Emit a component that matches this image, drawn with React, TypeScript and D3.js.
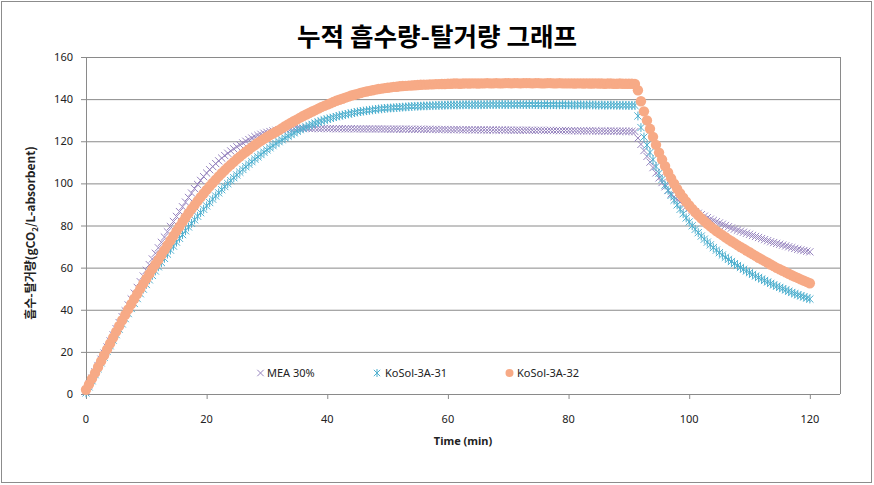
import * as d3 from "d3";

// sampling interval of the logger, minutes
const STEP = 0.5;

// rows of 10 points = 5 min each, last value at 120 min
const MEA_30 = [
  1.5, 4.5, 7.5, 10.5, 13.5, 16.5, 19.4, 22.3, 25.2, 28.1,
  31.0, 33.9, 36.7, 39.5, 42.3, 45.1, 47.9, 50.6, 53.3, 56.0,
  58.7, 61.4, 64.1, 66.8, 69.4, 72.0, 74.5, 77.0, 79.5, 81.9,
  84.3, 86.6, 88.9, 91.1, 93.3, 95.4, 97.5, 99.5, 101.4, 103.2,
  104.9, 106.5, 108.0, 109.4, 110.7, 112.0, 113.2, 114.3, 115.4, 116.4,
  117.4, 118.3, 119.2, 120.0, 120.8, 121.5, 122.2, 122.8, 123.3, 123.8,
  124.2, 124.6, 124.9, 125.2, 125.4, 125.6, 125.8, 125.9, 126.0, 126.0,
  126.1, 126.1, 126.0, 126.1, 126.1, 126.0, 126.1, 126.0, 126.0, 126.1,
  126.0, 126.0, 126.0, 125.9, 126.0, 126.0, 125.9, 125.9, 126.0, 125.9,
  125.9, 125.9, 125.8, 125.9, 125.9, 125.8, 125.8, 125.9, 125.8, 125.8,
  125.8, 125.7, 125.8, 125.8, 125.7, 125.7, 125.8, 125.7, 125.7, 125.6,
  125.7, 125.7, 125.6, 125.6, 125.7, 125.6, 125.6, 125.5, 125.6, 125.6,
  125.5, 125.5, 125.5, 125.6, 125.5, 125.4, 125.5, 125.5, 125.4, 125.4,
  125.5, 125.4, 125.4, 125.3, 125.4, 125.4, 125.3, 125.3, 125.4, 125.3,
  125.3, 125.3, 125.2, 125.3, 125.2, 125.2, 125.3, 125.2, 125.2, 125.1,
  125.2, 125.2, 125.1, 125.1, 125.2, 125.1, 125.1, 125.0, 125.1, 125.1,
  125.0, 125.0, 125.0, 124.9, 125.0, 124.9, 124.9, 125.0, 124.9, 124.9,
  124.8, 124.9, 124.8, 124.8, 124.9, 124.8, 124.8, 124.7, 124.8, 124.7,
  124.7, 124.7, 124.6, 121.5, 118.5, 115.6, 112.8, 110.1, 107.5, 105.0,
  102.6, 100.4, 98.4, 96.6, 95.0, 93.6, 92.3, 91.1, 90.0, 89.0,
  88.1, 87.3, 86.5, 85.8, 85.1, 84.4, 83.7, 83.0, 82.4, 81.8,
  81.2, 80.6, 80.0, 79.4, 78.8, 78.3, 77.8, 77.3, 76.8, 76.3,
  75.8, 75.3, 74.8, 74.3, 73.8, 73.3, 72.8, 72.3, 71.9, 71.5,
  71.1, 70.7, 70.3, 69.9, 69.5, 69.1, 68.7, 68.4, 68.1, 67.8,
  67.5,
];

const KOSOL_31 = [
  0.5, 3.4, 6.3, 9.2, 12.0, 14.8, 17.5, 20.2, 22.9, 25.6,
  28.2, 30.8, 33.3, 35.8, 38.2, 40.6, 43.0, 45.3, 47.6, 49.8,
  52.0, 54.2, 56.3, 58.4, 60.4, 62.4, 64.4, 66.4, 68.3, 70.2,
  72.1, 73.9, 75.7, 77.5, 79.3, 81.0, 82.7, 84.4, 86.1, 87.7,
  89.3, 90.9, 92.5, 94.0, 95.5, 97.0, 98.5, 99.9, 101.3, 102.7,
  104.0, 105.3, 106.6, 107.9, 109.1, 110.3, 111.5, 112.6, 113.7, 114.8,
  115.9, 116.9, 117.9, 118.9, 119.8, 120.7, 121.6, 122.4, 123.2, 124.0,
  124.8, 125.5, 126.2, 126.8, 127.4, 128.0, 128.6, 129.1, 129.6, 130.1,
  130.5, 130.9, 131.3, 131.7, 132.1, 132.4, 132.7, 133.0, 133.3, 133.6,
  133.9, 134.1, 134.3, 134.5, 134.7, 134.9, 135.1, 135.3, 135.4, 135.6,
  135.7, 135.8, 135.9, 136.0, 136.1, 136.2, 136.3, 136.4, 136.5, 136.6,
  136.6, 136.7, 136.8, 136.8, 136.9, 136.9, 137.0, 137.0, 137.1, 137.1,
  137.2, 137.2, 137.3, 137.2, 137.3, 137.3, 137.4, 137.3, 137.3, 137.4,
  137.4, 137.3, 137.4, 137.4, 137.4, 137.5, 137.4, 137.4, 137.5, 137.4,
  137.4, 137.5, 137.4, 137.4, 137.5, 137.4, 137.4, 137.4, 137.5, 137.4,
  137.4, 137.3, 137.4, 137.4, 137.3, 137.4, 137.3, 137.3, 137.4, 137.3,
  137.3, 137.3, 137.2, 137.3, 137.3, 137.2, 137.2, 137.3, 137.2, 137.2,
  137.1, 137.2, 137.1, 137.1, 137.2, 137.1, 137.1, 137.0, 137.1, 137.0,
  137.0, 137.0, 137.0, 132.0, 126.5, 122.0, 118.2, 114.7, 111.3, 108.0,
  104.8, 101.9, 99.2, 96.7, 94.3, 92.0, 89.8, 87.7, 85.6, 83.6,
  81.7, 79.9, 78.2, 76.6, 75.0, 73.5, 72.1, 70.8, 69.5, 68.3,
  67.1, 66.0, 64.9, 63.9, 62.9, 61.9, 61.0, 60.1, 59.2, 58.4,
  57.6, 56.8, 56.0, 55.3, 54.6, 53.9, 53.2, 52.5, 51.8, 51.2,
  50.6, 50.0, 49.4, 48.8, 48.2, 47.6, 47.1, 46.6, 46.1, 45.6,
  45.1,
];

const KOSOL_32 = [
  2.0, 4.6, 7.3, 10.0, 12.8, 15.6, 18.4, 21.2, 24.0, 26.8,
  29.6, 32.3, 35.0, 37.6, 40.2, 42.7, 45.2, 47.6, 50.0, 52.4,
  54.7, 57.0, 59.3, 61.5, 63.7, 66.0, 68.3, 70.6, 72.9, 75.1,
  77.3, 79.5, 81.7, 83.8, 85.8, 87.8, 89.7, 91.6, 93.4, 95.2,
  96.9, 98.6, 100.2, 101.8, 103.3, 104.8, 106.2, 107.6, 108.9, 110.2,
  111.5, 112.7, 113.9, 115.0, 116.1, 117.2, 118.2, 119.2, 120.2, 121.1,
  122.0, 122.9, 123.7, 124.5, 125.3, 126.2, 127.1, 128.0, 128.8, 129.6,
  130.4, 131.2, 132.0, 132.7, 133.4, 134.1, 134.8, 135.5, 136.2, 136.8,
  137.4, 138.0, 138.6, 139.2, 139.7, 140.2, 140.7, 141.2, 141.7, 142.1,
  142.5, 142.9, 143.3, 143.6, 143.9, 144.2, 144.5, 144.8, 145.0, 145.2,
  145.4, 145.6, 145.8, 145.9, 146.1, 146.2, 146.3, 146.4, 146.5, 146.6,
  146.7, 146.8, 146.9, 146.9, 147.0, 147.0, 147.1, 147.1, 147.2, 147.2,
  147.3, 147.3, 147.4, 147.4, 147.3, 147.4, 147.5, 147.4, 147.5, 147.5,
  147.4, 147.5, 147.5, 147.6, 147.5, 147.5, 147.6, 147.5, 147.5, 147.6,
  147.6, 147.5, 147.6, 147.6, 147.5, 147.6, 147.6, 147.6, 147.5, 147.6,
  147.6, 147.5, 147.5, 147.6, 147.6, 147.5, 147.5, 147.6, 147.5, 147.5,
  147.5, 147.5, 147.4, 147.5, 147.5, 147.4, 147.5, 147.4, 147.4, 147.5,
  147.4, 147.4, 147.3, 147.4, 147.4, 147.3, 147.3, 147.4, 147.3, 147.3,
  147.3, 147.3, 147.2, 144.2, 139.0, 134.2, 129.9, 125.9, 122.1, 118.3,
  114.6, 111.3, 108.2, 105.2, 102.4, 99.8, 97.4, 95.2, 93.2, 91.3,
  89.5, 87.9, 86.3, 84.8, 83.4, 82.1, 80.8, 79.6, 78.5, 77.4,
  76.4, 75.4, 74.4, 73.4, 72.5, 71.6, 70.7, 69.8, 69.0, 68.1,
  67.3, 66.4, 65.6, 64.7, 63.9, 63.1, 62.3, 61.5, 60.7, 59.9,
  59.2, 58.5, 57.8, 57.1, 56.4, 55.7, 55.1, 54.4, 53.8, 53.2,
  52.6,
];

const X_TICKS = [0, 20, 40, 60, 80, 100, 120];
const Y_TICKS = [0, 20, 40, 60, 80, 100, 120, 140, 160];

const SERIES = [
  { name: "MEA 30%", values: MEA_30, marker: "x", color: "#9784bf" },
  { name: "KoSol-3A-31", values: KOSOL_31, marker: "star", color: "#4fb0cf" },
  { name: "KoSol-3A-32", values: KOSOL_32, marker: "circle", color: "#f7aa86" },
];

const W = 874, H = 485;
const FONT = "'Noto Sans', 'Noto Sans CJK KR', sans-serif";
const KFONT = "'Noto Sans CJK KR', 'Noto Sans', sans-serif";
const GRID = "#8a8a8a";

const x = d3.scaleLinear().domain([0, 125]).range([86, 840]);
const y = d3.scaleLinear().domain([0, 160]).range([394, 57]);

function markerPath(type, cx, cy, s = 3.6) {
  let p = `M${cx - s},${cy - s}L${cx + s},${cy + s}M${cx - s},${cy + s}L${cx + s},${cy - s}`;
  if (type === "star") p += `M${cx},${cy - s - 0.8}L${cx},${cy + s + 0.8}`;
  return p;
}

function Series({ s }) {
  if (s.marker === "circle") {
    return (
      <g>
        {s.values.map((v, i) => (
          <circle key={i} cx={x(i * STEP)} cy={y(v)} r={5.2} fill={s.color} />
        ))}
      </g>
    );
  }
  const d = s.values.map((v, i) => markerPath(s.marker, x(i * STEP), y(v))).join("");
  return <path d={d} stroke={s.color} strokeWidth={1} fill="none" />;
}

// legend swatches are drawn smaller than the plot markers
function LegendMarker({ type, cx, cy, color }) {
  if (type === "circle") return <circle cx={cx} cy={cy} r={4} fill={color} />;
  return <path d={markerPath(type, cx, cy, 3.2)} stroke={color} strokeWidth={1} fill="none" />;
}

const LEGEND = [
  { mx: 260.5, tx: 267 },
  { mx: 377, tx: 385 },
  { mx: 509.5, tx: 517 },
];

export default function App() {
  return (
    <svg width={W} height={H} style={{ position: "absolute", left: 0, top: 0, background: "#fff" }}>
      <rect x={1.5} y={1.5} width={W - 4} height={H - 4} fill="#fff" stroke="#8c8c8c" />

      <text x={437} y={46} textAnchor="middle" fontFamily={KFONT} fontWeight="bold" fontSize={25}
        textLength={280} lengthAdjust="spacingAndGlyphs">
        누적 흡수량-탈거량 그래프
      </text>

      {/* grid + plot frame */}
      {Y_TICKS.map(t => (
        <line key={t} x1={x(0)} x2={840} y1={y(t) + 0.5} y2={y(t) + 0.5} stroke={GRID} />
      ))}
      <line x1={840.5} x2={840.5} y1={y(160)} y2={y(0)} stroke={GRID} />
      <line x1={x(0) + 0.5} x2={x(0) + 0.5} y1={y(160)} y2={y(0) + 1} stroke={GRID} />

      {Y_TICKS.map(t => (
        <g key={t}>
          <line x1={81} x2={86} y1={y(t) + 0.5} y2={y(t) + 0.5} stroke={GRID} />
          <text x={73} y={y(t) + 4} textAnchor="end" fontFamily={FONT} fontSize={11} fill="#222">{t}</text>
        </g>
      ))}
      {X_TICKS.map(t => (
        <g key={t}>
          <line x1={x(t) + 0.5} x2={x(t) + 0.5} y1={y(0)} y2={y(0) + 5} stroke={GRID} />
          <text x={x(t)} y={423} textAnchor="middle" fontFamily={FONT} fontSize={11} fill="#222">{t}</text>
        </g>
      ))}

      <text x={463} y={445} textAnchor="middle" fontFamily={FONT} fontWeight="bold" fontSize={11} fill="#222">
        Time (min)
      </text>
      <text transform="translate(35,233) rotate(-90)" textAnchor="middle" fontFamily={KFONT}
        fontWeight="bold" fontSize={12} fill="#222">
        흡수-탈거량(gCO<tspan fontSize={8} dy={3}>2</tspan><tspan dy={-3}>/L-absorbent)</tspan>
      </text>

      {SERIES.map(s => <Series key={s.name} s={s} />)}

      {SERIES.map((s, i) => (
        <g key={s.name}>
          <LegendMarker type={s.marker} cx={LEGEND[i].mx} cy={373} color={s.color} />
          <text x={LEGEND[i].tx} y={377} fontFamily={FONT} fontSize={11} fill="#222">{s.name}</text>
        </g>
      ))}
    </svg>
  );
}
